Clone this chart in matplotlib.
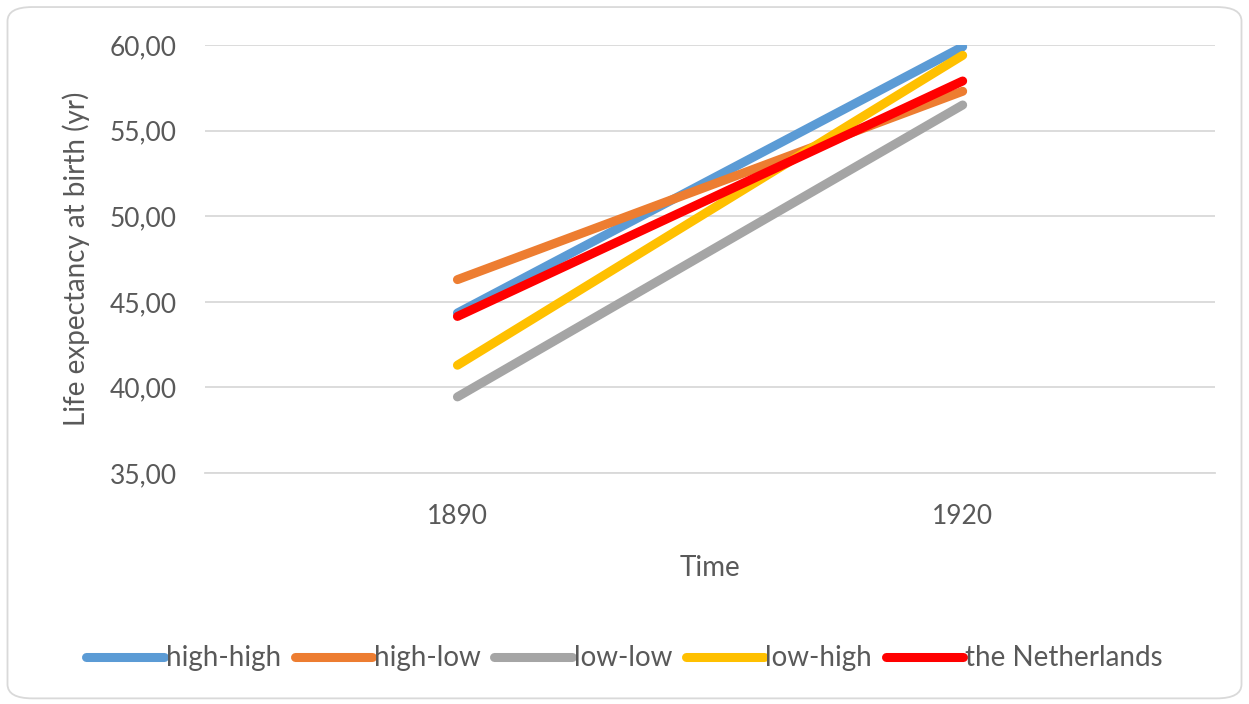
import matplotlib.pyplot as plt
from matplotlib.patches import FancyBboxPatch

years = ['1890', '1920']
series_names = ['high-high', 'high-low', 'low-low', 'low-high', 'the Netherlands']
high_high = [44.35, 59.9]
high_low = [46.3, 57.3]
low_low = [39.45, 56.5]
low_high = [41.3, 59.4]
netherlands = [44.15, 57.9]
colors = ['#5B9BD5', '#ED7D31', '#A5A5A5', '#FFC000', '#FF0000']

plt.rcParams['font.family'] = ['Lato', 'DejaVu Sans']
text_color = '#595959'

fig = plt.figure(figsize=(12.49, 7.04), dpi=100)
ax = fig.add_axes([0.164, 0.328, 0.809, 0.608])

x = range(len(years))
for name, vals, c in zip(series_names, [high_high, high_low, low_low, low_high, netherlands], colors):
    ax.plot(x, vals, color=c, lw=6.5, solid_capstyle='round', label=name)

ax.set_xlim(-0.5, 1.5)
ax.set_ylim(35, 60)
ax.set_yticks([35, 40, 45, 50, 55, 60])
ax.set_yticklabels(['35,00', '40,00', '45,00', '50,00', '55,00', '60,00'])
ax.set_xticks(list(x))
ax.set_xticklabels(years)
ax.tick_params(axis='both', length=0, labelsize=19, colors=text_color)
ax.tick_params(axis='y', pad=20)
ax.tick_params(axis='x', pad=22)
ax.grid(axis='y', color='#D9D9D9', lw=1.3)
ax.set_axisbelow(True)
for s in ['top', 'right', 'left']:
    ax.spines[s].set_visible(False)
ax.spines['bottom'].set_color('#D9D9D9')
ax.spines['bottom'].set_linewidth(1.3)

ax.set_xlabel('Time', fontsize=20, color=text_color, labelpad=19)
ax.set_ylabel('Life expectancy at birth (yr)', fontsize=20, color=text_color, labelpad=14)

fig.legend(loc='center', bbox_to_anchor=(0.5, 0.065), ncol=5, frameon=False,
           fontsize=20, labelcolor=text_color, handlelength=2.8, handletextpad=0.05,
           columnspacing=0.5)

border = FancyBboxPatch((0.006, 0.008), 0.988, 0.982, boxstyle='round,pad=0,rounding_size=0.02',
                        transform=fig.transFigure, fill=False, edgecolor='#D9D9D9', lw=1.3)
fig.patches.append(border)

fig.savefig('out.png', dpi=100)
